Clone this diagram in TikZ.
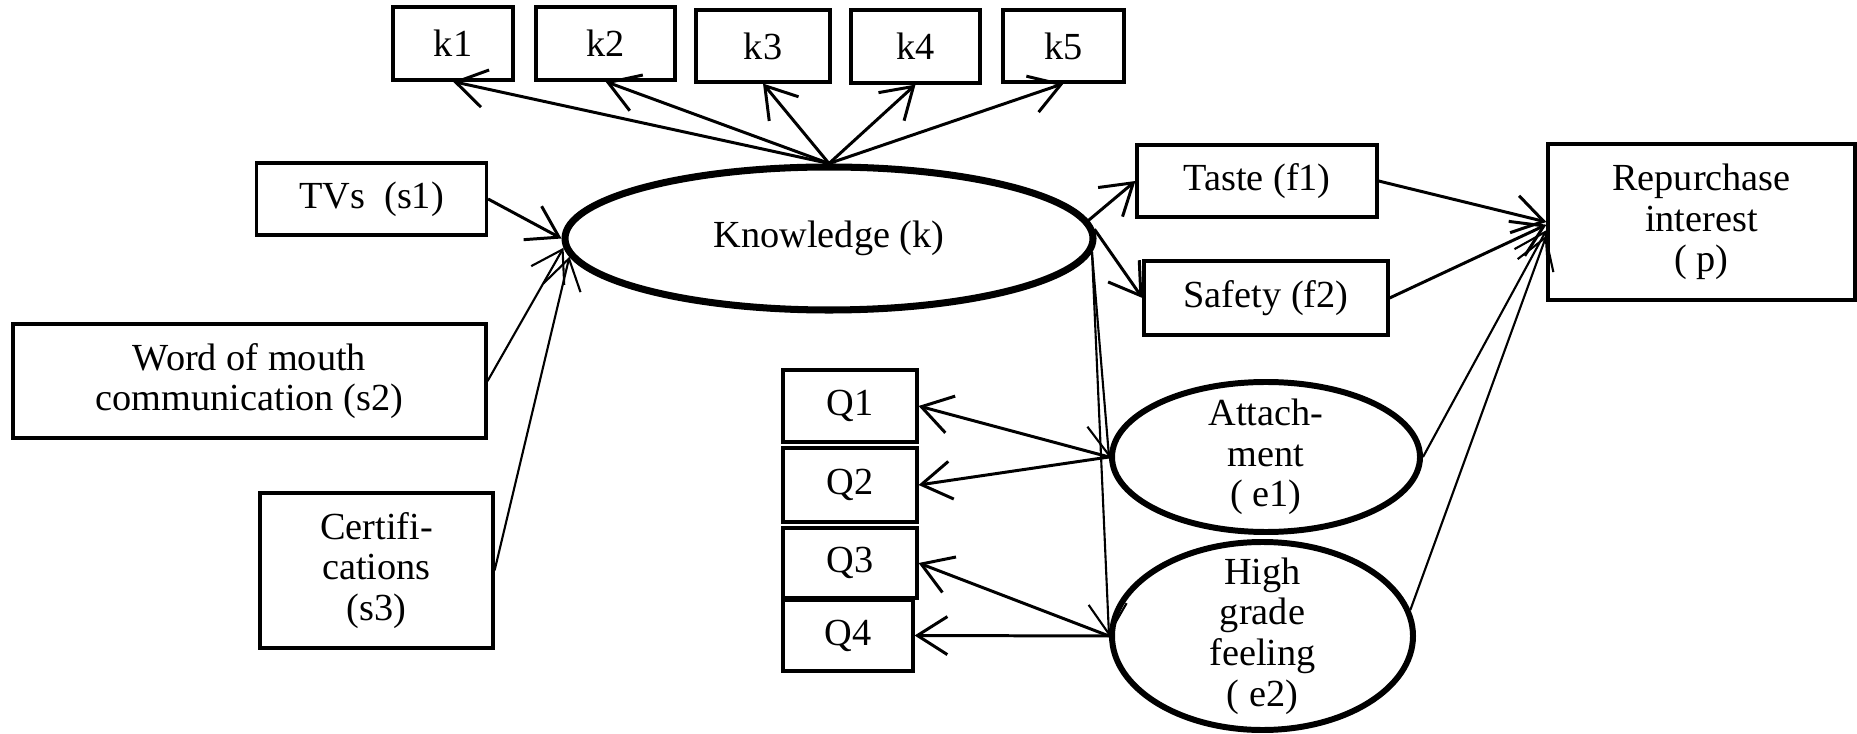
\documentclass[tikz,border=0pt]{standalone}
\usepackage{fontspec}
\setmainfont{Liberation Serif}
\usetikzlibrary{shapes.geometric,arrows.meta}
\begin{document}
\begin{tikzpicture}[
    font=\fontsize{10.9}{11.6}\selectfont,
    box/.style={draw, line width=0.9pt, inner sep=0pt, align=center},
    latent/.style={draw, ellipse, line width=1.7pt, inner sep=0pt},
    arr/.style={line width=0.85pt, -{Straight Barb[length=3mm,width=3.8mm]}},
    thinarr/.style={arr, line width=0.6pt}
  ]
			\useasboundingbox (0,0) rectangle (18.57,-7.34);
			\node[box, minimum width=1.20cm, minimum height=0.73cm] (k1) at (4.53,-0.435) {k1};
			\node[box, minimum width=1.39cm, minimum height=0.73cm] (k2) at (6.055,-0.435) {k2};
			\node[box, minimum width=1.34cm, minimum height=0.72cm] (k3) at (7.63,-0.46) {k3};
			\node[box, minimum width=1.29cm, minimum height=0.73cm] (k4) at (9.155,-0.465) {k4};
			\node[box, minimum width=1.21cm, minimum height=0.72cm] (k5) at (10.635,-0.46) {k5};
			\node[latent, line width=2pt, minimum width=5.28cm, minimum height=1.43cm] (know) at (8.29,-2.385) {Knowledge (k)};
			\node[box, minimum width=2.30cm, minimum height=0.72cm] (tv) at (3.715,-1.99) {TVs\ \ (s1)};
			\node[box, minimum width=4.73cm, minimum height=1.14cm] (wom) at (2.495,-3.81) {Word of mouth\\communication (s2)};
			\node[box, minimum width=2.33cm, minimum height=1.55cm] (cert) at (3.765,-5.705) {Certifi-\\cations\\(s3)};
			\node[box, minimum width=2.40cm, minimum height=0.72cm] (taste) at (12.57,-1.81) {Taste (f1)};
			\node[box, minimum width=2.44cm, minimum height=0.74cm] (safety) at (12.66,-2.98) {Safety (f2)};
			\node[box, minimum width=3.07cm, minimum height=1.56cm] (rep) at (17.015,-2.22) {Repurchase\\interest\\( p)};
			\node[box, minimum width=1.34cm, minimum height=0.72cm] (q1) at (8.50,-4.06) {Q1};
			\node[box, minimum width=1.34cm, minimum height=0.74cm] (q2) at (8.50,-4.85) {Q2};
			\node[box, minimum width=1.34cm, minimum height=0.70cm] (q3) at (8.50,-5.63) {Q3};
			\node[box, minimum width=1.30cm, minimum height=0.71cm] (q4) at (8.48,-6.355) {Q4};
			\node[latent, minimum width=3.08cm, minimum height=1.50cm, label={[align=center]center:Attach-\\ment\\( e1)}] (e1) at (12.66,-4.57) {};
			\node[latent, minimum width=3.01cm, minimum height=1.88cm, label={[align=center]center:High\\grade\\feeling\\( e2)}] (e2) at (12.625,-6.36) {};
			\foreach \k in {k1,k2,k3,k4,k5}
				\draw[arr] (know.north) -- (\k.south);
			\draw[arr] (tv.east) -- (know.west);
			\draw[thinarr] (wom.east) -- (know.182);
			\draw[thinarr] (cert.east) -- (know.184);
			\draw[arr] (know.4) -- (taste.west);
			\draw[arr] (know.2) -- (safety.west);
			\draw[thinarr] (know.-3) -- (e1.west);
			\draw[thinarr] (know.-3) -- (e2.west);
			\draw[arr] (e1.west) -- (q1.east);
			\draw[arr] (e1.west) -- (q2.east);
			\draw[arr] (e2.west) -- (q3.east);
			\draw[arr] (e2.west) -- (q4.east);
			\draw[arr] (taste.east) -- (rep.west);
			\draw[arr] (safety.east) -- (rep.181);
			\draw[thinarr] (e1.east) -- (rep.183);
			\draw[thinarr] (e2.10) -- (rep.185);
		\end{tikzpicture}
\end{document}
